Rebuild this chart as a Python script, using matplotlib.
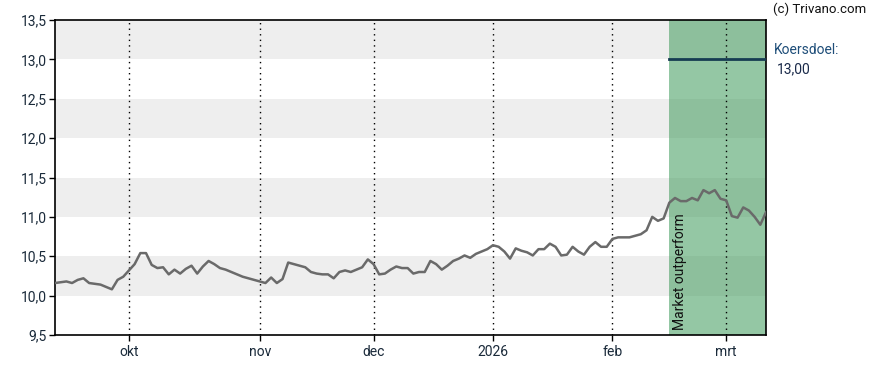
import numpy as np
import pandas as pd
import matplotlib.pyplot as plt

plt.rcParams['font.family'] = ['Roboto', 'DejaVu Sans']

# Handelsdagen (Euronext) van 12 sep 2025 t/m 11 mrt 2026
holidays = ['2025-12-25', '2025-12-26', '2026-01-01']
dates = pd.bdate_range('2025-09-12', '2026-03-11', freq='C', holidays=holidays)

# Slotkoersen
prices = [
    10.16, 10.17, 10.18, 10.16, 10.20, 10.22, 10.16, 10.15, 10.14, 10.11,
    10.08, 10.20, 10.24, 10.32, 10.40, 10.54, 10.54, 10.39, 10.35, 10.36,
    10.27, 10.33, 10.28, 10.34, 10.38, 10.28, 10.37, 10.44, 10.40, 10.35,
    10.33, 10.30, 10.27, 10.24, 10.22, 10.20, 10.18, 10.16, 10.23, 10.16,
    10.21, 10.42, 10.40, 10.38, 10.36, 10.30, 10.28, 10.27, 10.27, 10.22,
    10.30, 10.32, 10.30, 10.33, 10.36, 10.46, 10.40, 10.27, 10.28, 10.33,
    10.37, 10.35, 10.35, 10.28, 10.30, 10.30, 10.44, 10.40, 10.33, 10.38,
    10.44, 10.47, 10.51, 10.48, 10.53, 10.56, 10.59, 10.64, 10.62, 10.56,
    10.47, 10.60, 10.57, 10.55, 10.51, 10.59, 10.59, 10.66, 10.62, 10.51,
    10.52, 10.62, 10.56, 10.52, 10.62, 10.68, 10.62, 10.62, 10.72, 10.74,
    10.74, 10.74, 10.76, 10.78, 10.83, 11.00, 10.95, 10.98, 11.18, 11.24,
    11.20, 11.20, 11.24, 11.21, 11.34, 11.30, 11.34, 11.23, 11.21, 11.01,
    10.99, 11.12, 11.08, 11.00, 10.90, 11.06,
]

month_labels = ['okt', 'nov', 'dec', '2026', 'feb', 'mrt']
advies_start = '2026-02-16'
advies_label = 'Market outperform'
koersdoel = 13.00

x = np.arange(len(dates))

fig = plt.figure(figsize=(8.88, 3.70), dpi=100)
ax = fig.add_axes([55 / 888, 35 / 370, 711 / 888, 315 / 370])

# Grijze banden
for lo in [10.0, 11.0, 12.0, 13.0]:
    ax.axhspan(lo, lo + 0.5, color='#eeeeee', lw=0, zorder=0)

# Adviesperiode
i_adv = int(np.searchsorted(dates, pd.Timestamp(advies_start)))
ax.axvspan(x[i_adv], x[-1], color='#3d9a5a', alpha=0.55, lw=0, zorder=1)
ax.text(x[i_adv] + 1.8, 9.56, advies_label, rotation=90, ha='center', va='bottom',
        fontsize=10, color='#111111', zorder=5)

# Koersdoel
ax.plot([x[i_adv], x[-1]], [koersdoel, koersdoel], color='#163c52', lw=2, zorder=4)

# Koerslijn
ax.plot(x, prices, color='#6a6a6a', lw=1.8, zorder=3)

# Maandticks
month_pos = [i for i in range(1, len(dates)) if dates[i].month != dates[i - 1].month]
for p in month_pos:
    ax.axvline(x[p], color='black', lw=1, ls=(0, (1, 3)), zorder=2)
ax.set_xticks([x[p] for p in month_pos])
ax.set_xticklabels(month_labels)

yt = np.arange(9.5, 13.51, 0.5)
ax.set_yticks(yt)
ax.set_yticklabels([f'{v:.1f}'.replace('.', ',') for v in yt])
ax.tick_params(axis='both', labelsize=10, colors='black', length=4, width=1)
ax.tick_params(axis='x', labelcolor='#1a2a3a', pad=3)
ax.tick_params(axis='y', labelcolor='#1a2a3a', pad=2)

ax.set_xlim(0, x[-1])
ax.set_ylim(9.5, 13.5)
for s in ax.spines.values():
    s.set_color('black')
    s.set_linewidth(1.2)

fig.text(773 / 888, 1 - 9 / 370, '(c) Trivano.com', fontsize=9.5, color='#111111', va='center')
fig.text(774 / 888, 1 - 50 / 370, 'Koersdoel:', fontsize=10, color='#1f4e79', va='center')
fig.text(777 / 888, 1 - 69 / 370, f'{koersdoel:.2f}'.replace('.', ','), fontsize=10,
         color='#1a2a4a', va='center')

fig.savefig('out.png', dpi=100)
